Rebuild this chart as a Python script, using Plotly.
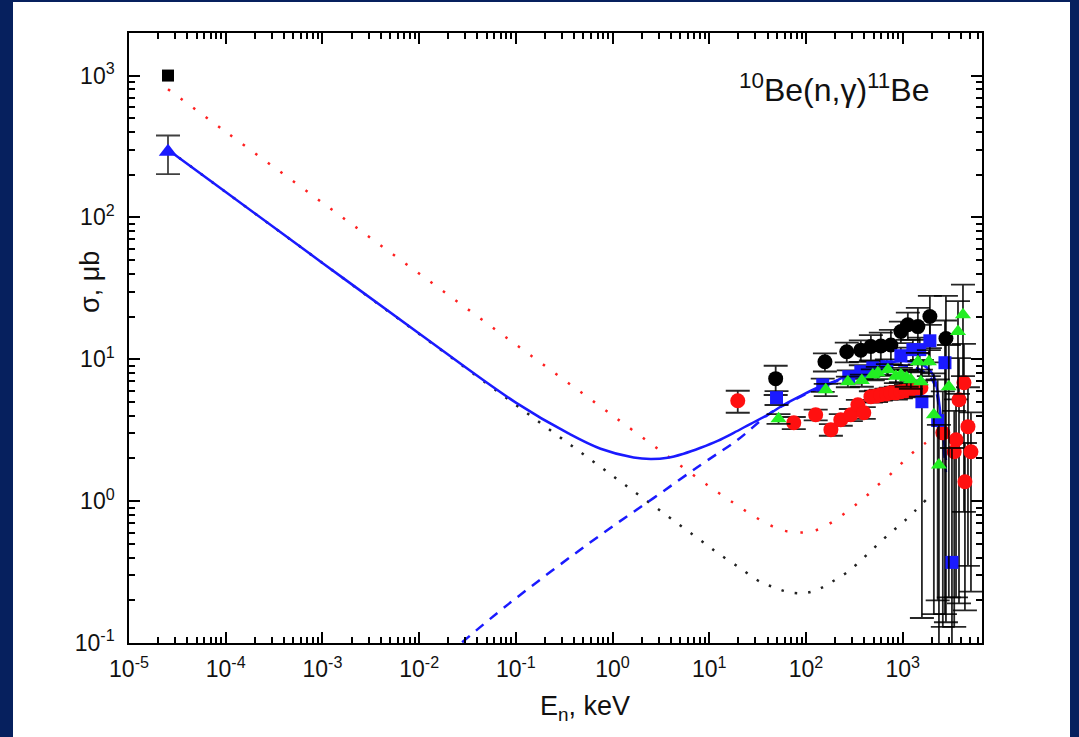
import plotly.graph_objects as go

# ---------------- data ----------------
E_thermal = [2.53e-5]
sig_thermal_black = [1000]
sig_thermal_blue = [290]
err_thermal_blue = [88]

# s-wave (black dotted)
E_s_black = [2.53e-5, 1e-4, 1e-3, 1e-2, 0.1, 1, 10, 12.2, 20.1, 34, 46, 65, 97, 136, 181, 277, 436, 670, 1080, 1740]
s_black = [300, 151, 47.7, 15.1, 4.77, 1.51, 0.477, 0.431, 0.343, 0.269, 0.248, 0.229, 0.225, 0.240, 0.267, 0.322, 0.425, 0.56, 0.74, 1.02]

# s-wave (red dotted)
E_s_red = [2.53e-5, 1e-4, 1e-3, 1e-2, 0.1, 1, 10, 17.9, 25.6, 36.6, 56, 86, 129, 181, 246, 336, 436, 541, 686, 851, 1030, 1305, 1740]
s_red = [800, 402, 127, 40.2, 12.7, 4.02, 1.27, 0.97, 0.826, 0.714, 0.626, 0.60, 0.626, 0.703, 0.813, 0.957, 1.11, 1.28, 1.46, 1.69, 1.92, 2.23, 2.58]

# p-wave (blue dashed)
E_p = [0.02, 0.0838, 0.752, 2.65, 8.14, 19.7, 43.2, 69.7, 112, 168, 369, 703, 1080, 1540, 2055, 2485, 2800]
s_p = [0.0835, 0.188, 0.578, 1.05, 1.80, 2.71, 4.20, 5.02, 5.90, 6.62, 8.1, 8.9, 9.0, 8.4, 7.0, 3.4, 1.6]

# total (blue solid)
E_tot = [2.53e-5, 1e-4, 1e-3, 1e-2, 0.1, 0.35, 0.752, 1.65, 2.47, 3.71, 5.43, 8.14, 12.2, 17.9, 26.8, 40.3, 58.9, 88.3, 132, 194, 369, 703, 1080, 1540, 2055, 2485, 2800]
s_tot = [300, 151, 47.8, 15.2, 4.95, 3.0, 2.34, 2.03, 1.98, 2.02, 2.16, 2.38, 2.66, 3.03, 3.51, 4.06, 4.78, 5.53, 6.30, 6.95, 8.44, 9.46, 9.7, 9.3, 7.8, 3.9, 1.95]

# experimental points
E_bc = [48.6, 157, 264, 369, 469, 594, 755, 958, 1130, 1435, 1910, 2800]
s_bc = [7.3, 9.6, 11.3, 11.6, 12.3, 12.4, 12.6, 15.7, 17.5, 17.0, 20.0, 14.0]
ep_bc = [1.7, 1.4, 1.8, 2.0, 2.5, 3.0, 3.5, 2.7, 3.8, 6.0, 8.0, 14.0]
em_bc = [1.7, 1.4, 1.8, 2.0, 2.5, 3.0, 3.5, 2.7, 3.8, 6.0, 8.0, 13.86]

E_bs = [49.6, 149, 277, 369, 491, 686, 958, 1275, 1500, 1910, 1580, 2300, 2735, 3230]
s_bs = [5.36, 6.6, 7.54, 8.18, 8.7, 8.87, 10.6, 11.7, 11.7, 13.5, 5.02, 3.7, 9.46, 0.37]
ep_bs = [0.6, 0.7, 0.8, 0.9, 1.0, 1.1, 1.5, 2.0, 2.5, 4.0, 4.87, 3.5, 9.3, 2.0]
em_bs = [0.6, 0.7, 0.8, 0.9, 1.0, 1.1, 1.5, 2.0, 2.5, 4.0, 4.87, 3.5, 9.3, 0.36]

E_gt = [52, 160, 271, 378, 491, 553, 703, 850, 958, 1100, 1215, 1435, 1543, 1865, 2100, 2370, 3000, 3730, 4200]
s_gt = [3.81, 6.1, 6.95, 7.1, 7.79, 8.04, 8.44, 7.6, 7.79, 7.4, 7.18, 9.6, 6.95, 9.6, 4.06, 1.80, 6.41, 15.7, 20.6]
ep_gt = [0.3, 0.6, 0.6, 0.7, 0.7, 0.8, 0.8, 0.8, 0.9, 1.0, 1.0, 1.5, 1.5, 2.0, 3.9, 1.65, 6.2, 10.0, 13.0]
em_gt = [0.3, 0.6, 0.6, 0.7, 0.7, 0.8, 0.8, 0.8, 0.9, 1.0, 1.0, 1.5, 1.5, 2.0, 3.9, 1.79, 6.2, 10.0, 13.0]

E_rc = [19.7, 74.8, 126, 181, 229, 291, 344, 396, 469, 530, 594, 680, 755, 850, 958, 1080, 1215, 1370, 1543,
        2600, 3410, 3560, 3820, 4300, 4400, 4730, 5080]
s_rc = [5.1, 3.57, 4.06, 3.19, 3.75, 4.06, 4.78, 4.20, 5.45, 5.5, 5.62, 5.7, 5.81, 5.8, 5.90, 6.0, 6.10, 6.2, 6.30,
        3.03, 2.23, 2.71, 5.19, 6.84, 1.37, 3.35, 2.23]
ep_rc = [0.9, 0.35, 0.35, 0.3, 0.35, 0.4, 0.4, 0.4, 0.5, 0.5, 0.5, 0.5, 0.5, 0.6, 0.6, 0.6, 0.6, 0.7, 0.8,
         2.9, 2.1, 2.5, 5.0, 6.0, 1.2, 3.0, 2.0]
em_rc = [0.9, 0.35, 0.35, 0.3, 0.35, 0.4, 0.4, 0.4, 0.5, 0.5, 0.5, 0.5, 0.5, 0.6, 0.6, 0.6, 0.6, 0.7, 0.8,
         2.9, 2.1, 2.5, 5.0, 6.0, 1.2, 3.0, 2.0]

x_tickvals = [1e-5, 1e-4, 1e-3, 1e-2, 1e-1, 1, 10, 100, 1000]
x_ticktext = ["10<sup>-5</sup>", "10<sup>-4</sup>", "10<sup>-3</sup>", "10<sup>-2</sup>", "10<sup>-1</sup>",
              "10<sup>0</sup>", "10<sup>1</sup>", "10<sup>2</sup>", "10<sup>3</sup>"]
y_tickvals = [0.1, 1, 10, 100, 1000]
y_ticktext = ["10<sup>-1</sup>", "10<sup>0</sup>", "10<sup>1</sup>", "10<sup>2</sup>", "10<sup>3</sup>"]

title_text = "<sup>10</sup>Be(n,γ)<sup>11</sup>Be"
x_title = "E<sub>n</sub>, keV"
y_title = "σ, μb"

# ---------------- figure ----------------
FONT = "Arial, Liberation Sans, sans-serif"
W, H = 1079, 737
L, R, T, B = 129, 97, 33, 94
PW, PH = W - L - R, H - T - B

fig = go.Figure()

fig.add_trace(go.Scatter(x=E_s_black, y=s_black, mode="lines", line_shape="spline",
                         line=dict(color="#222222", width=2.5, dash="2.5px,11px")))
fig.add_trace(go.Scatter(x=E_s_red, y=s_red, mode="lines", line_shape="spline",
                         line=dict(color="#ff2020", width=2.5, dash="2.5px,13px")))
fig.add_trace(go.Scatter(x=E_p, y=s_p, mode="lines", line_shape="spline",
                         line=dict(color="#1a1aff", width=2.5, dash="10px,8px")))
fig.add_trace(go.Scatter(x=E_tot, y=s_tot, mode="lines", line_shape="spline",
                         line=dict(color="#1a1aff", width=2.5)))

err_style = dict(type="data", symmetric=False, color="rgba(0,0,0,0.85)", thickness=1.8, width=12)

fig.add_trace(go.Scatter(x=E_rc, y=s_rc, mode="markers",
                         marker=dict(symbol="circle", size=15, color="#ff1010"),
                         error_y=dict(array=ep_rc, arrayminus=em_rc, **err_style)))
fig.add_trace(go.Scatter(x=E_bc, y=s_bc, mode="markers",
                         marker=dict(symbol="circle", size=15, color="black"),
                         error_y=dict(array=ep_bc, arrayminus=em_bc, **err_style)))
fig.add_trace(go.Scatter(x=E_bs, y=s_bs, mode="markers",
                         marker=dict(symbol="square", size=13, color="#1a1aff"),
                         error_y=dict(array=ep_bs, arrayminus=em_bs, **err_style)))
fig.add_trace(go.Scatter(x=E_gt, y=s_gt, mode="markers",
                         marker=dict(symbol="triangle-up", size=14, color="#22ee22"),
                         error_y=dict(array=ep_gt, arrayminus=em_gt, **err_style)))

fig.add_trace(go.Scatter(x=E_thermal, y=sig_thermal_black, mode="markers",
                         marker=dict(symbol="square", size=12, color="black")))
fig.add_trace(go.Scatter(x=E_thermal, y=sig_thermal_blue, mode="markers",
                         marker=dict(symbol="triangle-up", size=16, color="#1a1aff"),
                         error_y=dict(type="data", array=err_thermal_blue, color="rgba(0,0,0,0.75)",
                                      thickness=1.8, width=12)))

minor_x = [m * 10.0 ** k for k in range(-5, 4) for m in range(2, 10)]
minor_y = [m * 10.0 ** k for k in range(-1, 4) for m in range(2, 10)]

axis_common = dict(type="log", showgrid=False, zeroline=False, showline=True, linecolor="black",
                   linewidth=1.5, mirror="ticks", ticks="inside", ticklen=11, tickwidth=1.5,
                   tickcolor="black", tickfont=dict(family=FONT, size=23, color="#111111"))

fig.update_xaxes(range=[-5, 3.82], tickvals=x_tickvals, ticktext=x_ticktext,
                 minor=dict(tickvals=minor_x, ticks="inside", ticklen=6, tickwidth=1.5, tickcolor="black"),
                 ticklabelstandoff=5, **axis_common)
fig.update_yaxes(range=[-1, 3.30], tickvals=y_tickvals, ticktext=y_ticktext,
                 minor=dict(tickvals=minor_y, ticks="inside", ticklen=6, tickwidth=1.5, tickcolor="black"),
                 ticklabelstandoff=8, **axis_common)

def px_x(p):
    return (p - L) / PW

def px_y(p):
    return (H - B - p) / PH

fig.update_layout(
    width=W, height=H,
    margin=dict(l=L, r=R, t=T, b=B),
    paper_bgcolor="#06205e",
    plot_bgcolor="white",
    showlegend=False,
    shapes=[dict(type="rect", xref="paper", yref="paper", layer="below",
                 x0=px_x(13), x1=px_x(1070), y0=px_y(740), y1=px_y(2),
                 fillcolor="white", line=dict(width=0))],
    annotations=[
        dict(text=title_text, xref="paper", yref="paper", x=px_x(834), y=px_y(88),
             xanchor="center", yanchor="middle", showarrow=False,
             font=dict(family=FONT, size=32, color="#111111")),
        dict(text=x_title, xref="paper", yref="paper", x=px_x(585), y=px_y(708),
             xanchor="center", yanchor="middle", showarrow=False,
             font=dict(family=FONT, size=27, color="#111111")),
        dict(text=y_title, xref="paper", yref="paper", x=px_x(90), y=px_y(282),
             xanchor="center", yanchor="middle", showarrow=False, textangle=-90,
             font=dict(family=FONT, size=27, color="#111111")),
    ],
)

fig.write_html("out.html")
